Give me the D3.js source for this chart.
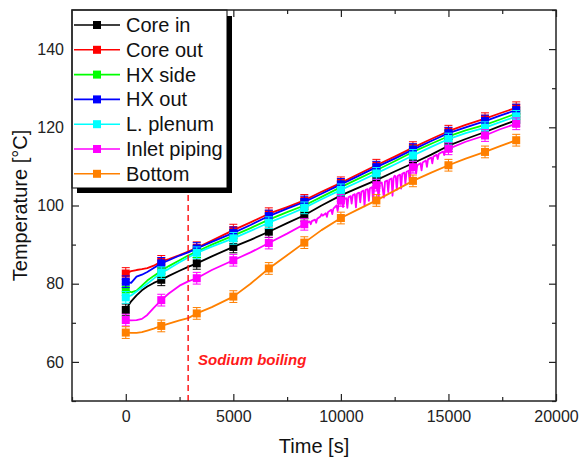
<!DOCTYPE html>
<html>
<head>
<meta charset="utf-8">
<script src="https://cdn.jsdelivr.net/npm/d3@7/dist/d3.min.js"></script>
<style>
  html, body { margin: 0; padding: 0; background: #fff; }
  svg { display: block; font-family: "Liberation Sans", Arial, sans-serif; }
</style>
</head>
<body>
<svg id="chart" width="579" height="458"></svg>
<script>
// ---------- data ----------
const seriesNames = ["Core in", "Core out", "HX side", "HX out", "L. plenum", "Inlet piping", "Bottom"];
const seriesColors = ["#000000", "#ff0000", "#00ff00", "#0000ff", "#00ffff", "#ff00ff", "#ff8000"];

const lineTimes = [0, 250, 500, 750, 1000, 1300, 1650, 2000, 2500, 2900, 3300, 4000, 5000, 5800, 6650, 7500, 8300, 9100, 10000, 10800, 11650, 12500, 13350, 14200, 15000, 15800, 16700, 17400, 18150];
const markerTimes = [0, 1650, 3300, 5000, 6650, 8300, 10000, 11650, 13350, 15000, 16700, 18150];

const coreIn    = [73.3, 75.5, 77.0, 78.3, 79.3, 80.2, 81.0, 82.0, 83.3, 84.3, 85.2, 87.0, 89.4, 91.2, 93.3, 95.5, 97.5, 100.0, 102.6, 104.5, 106.5, 108.7, 110.8, 113.0, 115.3, 117.0, 118.8, 120.3, 121.8];
const coreOut   = [82.6, 83.2, 83.5, 83.7, 84.0, 84.6, 85.7, 86.3, 87.3, 88.2, 89.2, 91.0, 93.7, 95.7, 97.9, 99.6, 101.3, 103.5, 105.8, 108.0, 110.3, 112.5, 114.8, 117.0, 119.0, 120.6, 122.2, 123.6, 125.0];
const hxSide    = [78.5, 77.8, 78.2, 79.5, 80.8, 82.0, 83.3, 84.5, 86.0, 87.2, 88.2, 90.0, 92.3, 94.2, 96.4, 98.3, 100.0, 102.2, 104.7, 106.8, 109.0, 111.3, 113.7, 115.8, 117.7, 119.2, 120.6, 122.0, 123.5];
const hxOut     = [80.5, 80.2, 81.8, 82.3, 83.0, 84.0, 85.2, 86.0, 87.2, 88.0, 89.0, 90.7, 93.0, 95.0, 97.3, 99.2, 100.9, 103.0, 105.4, 107.5, 109.8, 112.0, 114.3, 116.5, 118.5, 120.0, 121.6, 123.0, 124.4];
const lPlenum   = [76.5, 77.0, 78.0, 79.0, 80.0, 81.3, 82.8, 83.8, 85.5, 86.7, 87.9, 89.5, 91.6, 93.5, 95.6, 97.5, 99.4, 101.6, 104.0, 106.0, 108.2, 110.5, 112.8, 115.0, 117.0, 118.5, 119.9, 121.3, 122.8];
const inletPipe = [70.7, 70.6, 70.7, 71.0, 72.0, 73.8, 75.8, 77.5, 79.5, 80.6, 81.4, 83.5, 86.0, 88.0, 90.4, 92.8, 95.2, 97.8, 101.3, 103.2, 105.2, 107.6, 109.8, 112.3, 114.5, 116.3, 117.9, 119.5, 120.9];
const bottom    = [67.5, 67.4, 67.4, 67.6, 68.0, 68.5, 69.2, 69.8, 70.6, 71.2, 72.4, 74.0, 76.7, 80.0, 83.9, 87.3, 90.5, 93.7, 96.8, 99.0, 101.3, 103.8, 106.3, 108.4, 110.3, 112.0, 113.7, 115.2, 116.7];

// fluctuating readings of the inlet piping trace (boiling period)
const inletNoiseT = [8400, 8550, 8600, 8650, 8800, 8850, 8900, 9050, 9150, 9300, 9350, 9400, 9550, 9600, 9650, 9800, 9850, 9900,
  10050, 10100, 10150, 10250, 10300, 10350, 10450, 10500, 10550, 10650, 10700, 10750, 10850, 10900, 10950,
  11050, 11100, 11150, 11250, 11300, 11350, 11450, 11500, 11550, 11700, 11750, 11800, 11900, 12000, 12050,
  12150, 12200, 12250, 12350, 12400, 12450, 12550, 12600, 12650, 12750, 12800, 12850, 12950, 13000, 13050,
  13150, 13200, 13250, 13450, 13500, 13550, 13700, 13750, 13800, 13950, 14000, 14050, 14250, 14300, 14450,
  14500, 14550, 14750, 14800, 14850];
const inletNoiseV = [95.5, 95.9, 95.2, 96.0, 96.4, 95.6, 96.6, 97.2, 97.4, 98.0, 97.1, 98.3, 98.9, 97.8, 99.2, 100.0, 98.6, 100.4,
  101.4, 99.6, 101.6, 101.9, 99.4, 102.1, 102.4, 100.5, 102.6, 102.9, 99.5, 103.0, 103.3, 100.8, 103.5,
  103.8, 99.8, 104.0, 104.2, 101.2, 104.4, 104.7, 100.9, 104.9, 105.3, 101.5, 105.6, 105.9, 102.0, 106.1,
  106.4, 103.4, 106.6, 106.9, 102.5, 107.1, 107.4, 104.0, 107.6, 107.9, 104.3, 108.1, 108.4, 105.5, 108.6,
  108.9, 106.0, 109.2, 110.0, 108.2, 110.3, 110.8, 109.0, 111.0, 111.5, 109.9, 111.8, 110.8, 112.5, 113.0,
  111.9, 113.2, 113.8, 112.9, 114.0];

const errHalf = 1.5;
const boilingTime = 2900;

const xMajorTicks = [0, 5000, 10000, 15000, 20000];
const xMinorTicks = [-2500, 2500, 7500, 12500, 17500];
const yMajorTicks = [60, 80, 100, 120, 140];
const yMinorTicks = [50, 70, 90, 110, 130, 150];

// ---------- layout ----------
const svg = d3.select("#chart");
const L = 72, R = 556, T = 10, B = 401;
const x = d3.scaleLinear().domain([-2500, 20000]).range([L, R]);
const y = d3.scaleLinear().domain([50, 150]).range([B, T]);

const seriesValues = [coreIn, coreOut, hxSide, hxOut, lPlenum, inletPipe, bottom];

function pointsFor(i) {
  let pts = lineTimes.map((t, k) => [t, seriesValues[i][k]]);
  if (i === 5) {
    pts = pts.concat(inletNoiseT.map((t, k) => [t, inletNoiseV[k]]));
    pts.sort((a, b) => a[0] - b[0]);
  }
  return pts;
}

const line = d3.line().x(d => x(d[0])).y(d => y(d[1]));

const plot = svg.append("g");
seriesValues.forEach((vals, i) => {
  const col = seriesColors[i];
  const g = plot.append("g");
  g.append("path")
    .attr("d", line(pointsFor(i)))
    .attr("fill", "none")
    .attr("stroke", col)
    .attr("stroke-width", 1.8)
    .attr("stroke-linejoin", "round");
  const mk = markerTimes.map(t => [t, vals[lineTimes.indexOf(t)]]);
  // error bars
  mk.forEach(d => {
    const cx = x(d[0]);
    const y1 = y(d[1] + errHalf), y2 = y(d[1] - errHalf);
    g.append("line").attr("x1", cx).attr("x2", cx).attr("y1", y1).attr("y2", y2)
      .attr("stroke", col).attr("stroke-width", 1);
    [y1, y2].forEach(yy => g.append("line")
      .attr("x1", cx - 4).attr("x2", cx + 4).attr("y1", yy).attr("y2", yy)
      .attr("stroke", col).attr("stroke-width", 1));
  });
  g.selectAll("rect.m").data(mk).enter().append("rect")
    .attr("x", d => x(d[0]) - 4).attr("y", d => y(d[1]) - 4)
    .attr("width", 8).attr("height", 8)
    .attr("fill", col);
});

// sodium boiling marker
svg.append("line")
  .attr("x1", x(boilingTime)).attr("x2", x(boilingTime))
  .attr("y1", y(50)).attr("y2", y(150))
  .attr("stroke", "#ff1a1a").attr("stroke-width", 1.5)
  .attr("stroke-dasharray", "6,4");
svg.append("text")
  .attr("x", 198).attr("y", 365)
  .attr("fill", "#ff1a1a")
  .attr("font-size", 15).attr("font-weight", "bold").attr("font-style", "italic")
  .text("Sodium boiling");

// ---------- axes ----------
function styleAxis(g) {
  g.select(".domain").remove();
  g.selectAll(".tick line").attr("stroke", "#222").attr("stroke-width", 1.2);
  g.selectAll(".tick text").attr("fill", "#222").attr("font-size", 16)
    .attr("font-family", "Liberation Sans, Arial, sans-serif");
}
svg.append("g").attr("transform", `translate(0,${B})`)
  .call(d3.axisBottom(x).tickValues(xMajorTicks).tickFormat(d3.format("d")).tickSize(-7).tickPadding(10))
  .call(styleAxis);
svg.append("g").attr("transform", `translate(0,${B})`)
  .call(d3.axisBottom(x).tickValues(xMinorTicks).tickFormat("").tickSize(-4))
  .call(styleAxis);
svg.append("g").attr("transform", `translate(0,${T})`)
  .call(d3.axisTop(x).tickValues(xMajorTicks).tickFormat("").tickSize(-7))
  .call(styleAxis);
svg.append("g").attr("transform", `translate(0,${T})`)
  .call(d3.axisTop(x).tickValues(xMinorTicks).tickFormat("").tickSize(-4))
  .call(styleAxis);
svg.append("g").attr("transform", `translate(${L},0)`)
  .call(d3.axisLeft(y).tickValues(yMajorTicks).tickSize(-7).tickPadding(8))
  .call(styleAxis);
svg.append("g").attr("transform", `translate(${L},0)`)
  .call(d3.axisLeft(y).tickValues(yMinorTicks).tickFormat("").tickSize(-4))
  .call(styleAxis);
svg.append("g").attr("transform", `translate(${R},0)`)
  .call(d3.axisRight(y).tickValues(yMajorTicks).tickFormat("").tickSize(-7))
  .call(styleAxis);
svg.append("g").attr("transform", `translate(${R},0)`)
  .call(d3.axisRight(y).tickValues(yMinorTicks).tickFormat("").tickSize(-4))
  .call(styleAxis);

// axis titles
svg.append("text")
  .attr("x", (L + R) / 2).attr("y", 453)
  .attr("text-anchor", "middle").attr("font-size", 20).attr("fill", "#111")
  .text("Time [s]");
svg.append("text")
  .attr("transform", `translate(27,${(T + B) / 2}) rotate(-90)`)
  .attr("text-anchor", "middle").attr("font-size", 20).attr("fill", "#111")
  .text("Temperature [°C]");

// ---------- legend ----------
const lg = svg.append("g");
lg.append("rect").attr("x", 77).attr("y", 16).attr("width", 155).attr("height", 177).attr("fill", "#000");
lg.append("rect").attr("x", L).attr("y", T).attr("width", 155).attr("height", 178)
  .attr("fill", "#fff").attr("stroke", "#000").attr("stroke-width", 1);
seriesNames.forEach((name, i) => {
  const cy = 25 + i * 24.8;
  lg.append("line").attr("x1", 74).attr("x2", 120).attr("y1", cy).attr("y2", cy)
    .attr("stroke", seriesColors[i]).attr("stroke-width", 1.6);
  lg.append("rect").attr("x", 93).attr("y", cy - 4).attr("width", 8).attr("height", 8)
    .attr("fill", seriesColors[i]);
  lg.append("text").attr("x", 126).attr("y", cy + 7)
    .attr("font-size", 20).attr("fill", "#111").text(name);
});

// frame
svg.append("rect").attr("x", L).attr("y", T).attr("width", R - L).attr("height", B - T)
  .attr("fill", "none").attr("stroke", "#222").attr("stroke-width", 1.5);
</script>
</body>
</html>
